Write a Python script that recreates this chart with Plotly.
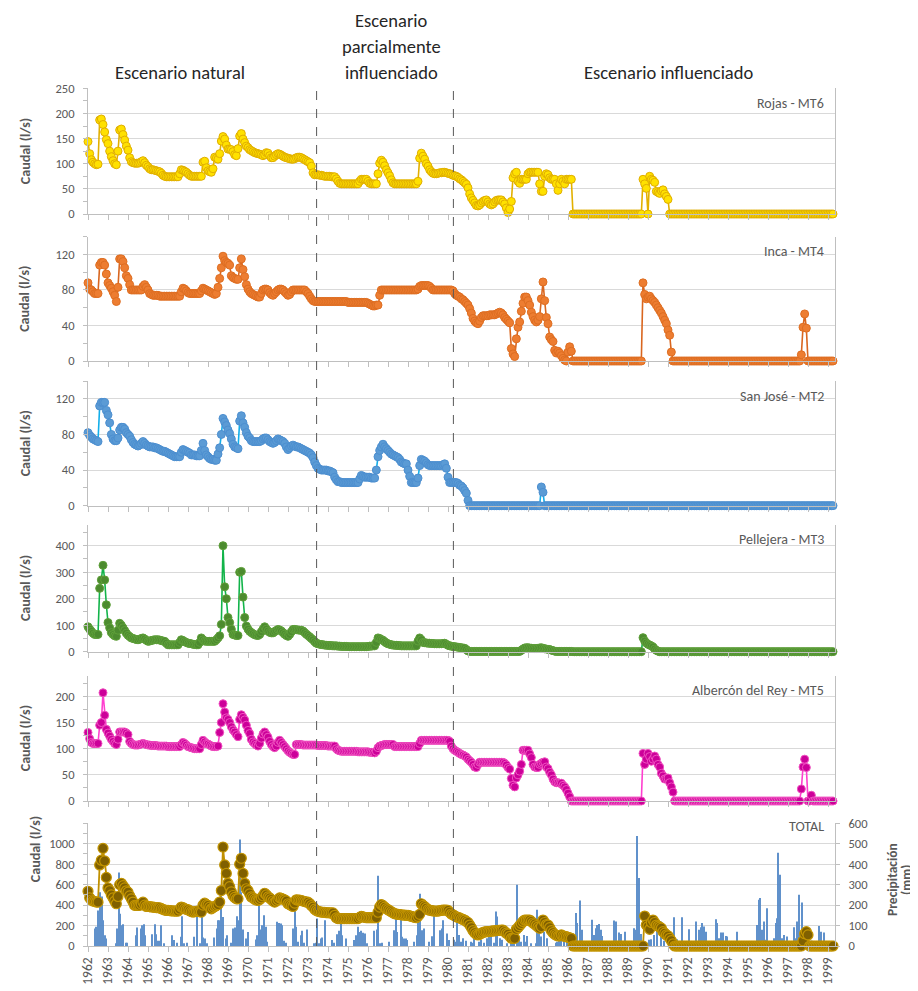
import plotly.graph_objects as go

# ---------------- data: monthly flow readings (l/s), Jan 1962 ... Apr 1999 ----------------
N_M = 448
t_m = [1962 + m / 12 for m in range(N_M)]

rojas = [
    144, 120, 108, 103, 100, 98, 99, 187, 189, 178, 163, 148,   # 1962
    140, 125, 114, 106, 100, 98, 125, 167, 169, 158, 147, 135,  # 1963
    127, 112, 104, 102, 101, 101, 101, 102, 104, 106, 102, 97,  # 1964
    94, 90, 88, 88, 87, 86, 85, 84, 81, 77, 75, 74,             # 1965
    74, 74, 74, 74, 74, 74, 74, 80, 88, 87, 85, 83,             # 1966
    80, 77, 75, 75, 75, 75, 75, 75, 75, 103, 105, 92,           # 1967
    86, 84, 83, 90, 113, 111, 109, 120, 145, 154, 149, 137,     # 1968
    129, 129, 128, 124, 118, 116, 130, 155, 160, 149, 142, 135,  # 1969
    132, 128, 126, 124, 122, 121, 120, 119, 118, 116, 118, 122,  # 1970
    121, 116, 112, 112, 115, 118, 120, 119, 117, 115, 113, 112,  # 1971
    111, 110, 109, 109, 110, 112, 113, 113, 112, 110, 108, 106,  # 1972
    104, 102, 95, 82, 78, 78, 78, 77, 77, 76, 75, 75,           # 1973
    75, 75, 74, 74, 74, 70, 65, 61, 60, 60, 60, 60,             # 1974
    60, 60, 60, 60, 60, 60, 60, 65, 69, 69, 69, 69,             # 1975
    65, 61, 60, 60, 60, 60, 80, 101, 107, 103, 96, 88,          # 1976
    82, 76, 68, 62, 60, 60, 60, 60, 60, 60, 60, 60,             # 1977
    60, 60, 60, 60, 60, 60, 65, 111, 121, 115, 109, 100,        # 1978
    95, 88, 84, 81, 80, 80, 81, 82, 82, 83, 83, 82,             # 1979
    81, 80, 79, 77, 76, 75, 73, 70, 68, 65, 62, 59,             # 1980
    52, 40, 32, 27, 22, 17, 16, 18, 22, 25, 27, 28,             # 1981
    24, 20, 18, 20, 24, 27, 28, 28, 28, 24, 20, 12,             # 1982
    3, 10, 25, 72, 80, 83, 65, 61, 69, 69, 69, 69,              # 1983
    80, 83, 83, 83, 83, 83, 83, 60, 45, 45, 75, 80,             # 1984
    78, 72, 69, 69, 69, 60, 47, 60, 69, 65, 60, 69,             # 1985
    69, 69, 69, 0, 0, 0, 0, 0, 0, 0, 0, 0,                      # 1986
    *[0] * 24,                                                  # 1987-1988
    0, 0, 0, 0, 0, 0, 0, 0, 0, 69, 60, 51,                      # 1989
    0, 75, 69, 67, 63, 45, 43, 41, 46, 48, 40, 35,              # 1990
    29, 0, 0, 0, 0, 0, 0, 0, 0, 0, 0, 0,                        # 1991
    *[0] * 84,                                                  # 1992-1998
    0, 0, 0, 0,                                                 # 1999
]

inca = [
    88, 81, 80, 78, 76, 76, 76, 108, 111, 111, 108, 98,         # 1962
    88, 85, 82, 78, 74, 67, 83, 115, 115, 112, 105, 96,         # 1963
    93, 86, 80, 80, 80, 80, 80, 80, 80, 84, 86, 83,             # 1964
    80, 76, 75, 74, 74, 74, 74, 73, 73, 73, 73, 73,             # 1965
    73, 73, 73, 73, 73, 73, 73, 73, 78, 82, 81, 79,             # 1966
    77, 76, 76, 76, 76, 76, 76, 76, 79, 82, 81, 80,             # 1967
    79, 78, 77, 76, 75, 76, 83, 93, 105, 118, 113, 111,         # 1968
    110, 108, 96, 94, 93, 92, 92, 105, 115, 103, 95, 86,        # 1969
    81, 78, 76, 75, 74, 73, 72, 72, 76, 80, 81, 81,             # 1970
    80, 77, 75, 74, 76, 78, 80, 81, 81, 80, 78, 76,             # 1971
    74, 75, 78, 80, 80, 80, 80, 80, 80, 80, 80, 78,             # 1972
    76, 73, 70, 68, 67, 67, 67, 67, 67, 67, 67, 67,             # 1973
    *[67] * 12,                                                 # 1974
    *[66] * 12,                                                 # 1975
    65, 64, 63, 62, 62, 63, 63, 74, 80, 80, 80, 80,             # 1976
    *[80] * 12,                                                 # 1977
    80, 80, 80, 80, 80, 80, 81, 84, 85, 85, 85, 85,             # 1978
    85, 84, 82, 80, 80, 80, 80, 80, 80, 80, 80, 80,             # 1979
    80, 80, 80, 79, 76, 74, 73, 72, 70, 69, 67, 65,             # 1980
    63, 59, 54, 48, 45, 43, 42, 45, 49, 51, 51, 51,             # 1981
    51, 52, 52, 52, 52, 53, 54, 55, 54, 52, 49, 47,             # 1982
    45, 43, 14, 8, 5, 25, 38, 44, 56, 65, 72, 72,               # 1983
    68, 63, 55, 50, 46, 44, 46, 50, 70, 89, 68, 49,             # 1984
    42, 27, 24, 22, 12, 9, 11, 9, 6, 3, 1, 0,                   # 1985
    10, 16, 11, 0, 0, 0, 0, 0, 0, 0, 0, 0,                      # 1986
    *[0] * 24,                                                  # 1987-1988
    0, 0, 0, 0, 0, 0, 0, 0, 0, 88, 75, 70,                      # 1989
    72, 73, 70, 68, 66, 63, 60, 57, 54, 50, 46, 42,             # 1990
    35, 29, 10, 0, 0, 0, 0, 0, 0, 0, 0, 0,                      # 1991
    *[0] * 60,                                                  # 1992-1996
    0, 0, 0, 0, 0, 0, 0, 0, 7, 38, 53, 37,                      # 1997
    *[0] * 12,                                                  # 1998
    0, 0, 0, 0,                                                 # 1999
]

san_jose = [
    82, 79, 77, 75, 74, 73, 72, 112, 116, 116, 116, 107,        # 1962
    102, 93, 80, 75, 73, 73, 76, 85, 88, 88, 86, 82,            # 1963
    80, 78, 74, 71, 69, 68, 67, 68, 70, 72, 70, 68,             # 1964
    67, 66, 66, 66, 65, 65, 64, 63, 62, 61, 61, 60,             # 1965
    59, 58, 57, 56, 55, 55, 55, 55, 60, 63, 62, 61,             # 1966
    60, 59, 57, 57, 57, 56, 56, 56, 62, 70, 62, 57,             # 1967
    55, 53, 52, 52, 51, 51, 58, 65, 80, 98, 94, 90,             # 1968
    85, 81, 75, 69, 66, 65, 64, 95, 101, 93, 88, 82,            # 1969
    78, 76, 73, 72, 72, 72, 72, 72, 73, 75, 76, 76,             # 1970
    74, 72, 71, 70, 71, 73, 75, 74, 73, 72, 70, 66,             # 1971
    63, 65, 67, 68, 67, 66, 66, 65, 64, 63, 62, 61,             # 1972
    60, 59, 57, 54, 49, 45, 42, 41, 40, 40, 40, 40,             # 1973
    39, 39, 38, 37, 32, 29, 27, 27, 26, 26, 26, 26,             # 1974
    26, 26, 26, 26, 26, 26, 26, 30, 34, 33, 32, 32,             # 1975
    32, 32, 31, 31, 31, 40, 55, 62, 66, 69, 66, 64,             # 1976
    62, 60, 58, 57, 56, 55, 54, 52, 49, 48, 47, 47,             # 1977
    40, 33, 26, 26, 26, 26, 31, 45, 52, 51, 50, 48,             # 1978
    46, 45, 45, 45, 45, 45, 45, 45, 45, 46, 47, 42,             # 1979
    32, 26, 26, 26, 26, 26, 25, 23, 22, 20, 17, 14,             # 1980
    6, 0, 0, 0, 0, 0, 0, 0, 0, 0, 0, 0,                         # 1981
    *[0] * 24,                                                  # 1982-1983
    0, 0, 0, 0, 0, 0, 0, 0, 21, 15, 0, 0,                       # 1984
    *[0] * 168,                                                 # 1985-1998
    0, 0, 0, 0,                                                 # 1999
]

pellejera = [
    94, 85, 77, 70, 65, 65, 65, 239, 271, 326, 271, 177,        # 1962
    110, 90, 72, 65, 60, 58, 81, 107, 100, 90, 80, 70,          # 1963
    62, 57, 52, 50, 48, 46, 45, 47, 50, 52, 48, 43,             # 1964
    39, 40, 42, 44, 45, 45, 45, 44, 42, 40, 39, 32,             # 1965
    26, 26, 26, 26, 26, 26, 26, 35, 45, 42, 38, 35,             # 1966
    32, 31, 30, 28, 27, 26, 26, 35, 52, 45, 40, 39,             # 1967
    39, 39, 39, 39, 39, 45, 52, 60, 103, 400, 245, 200,         # 1968
    129, 110, 85, 65, 63, 61, 61, 300, 303, 206, 129, 97,       # 1969
    85, 77, 72, 68, 64, 62, 61, 65, 75, 85, 94, 85,             # 1970
    78, 73, 71, 71, 76, 80, 84, 82, 78, 72, 66, 61,             # 1971
    58, 65, 75, 84, 84, 83, 82, 81, 81, 78, 72, 66,             # 1972
    61, 56, 50, 45, 38, 32, 30, 28, 27, 26, 25, 24,             # 1973
    24, 23, 23, 22, 22, 22, 21, 21, 20, 20, 20, 20,             # 1974
    *[19] * 12,                                                 # 1975
    20, 21, 21, 22, 22, 35, 52, 50, 46, 43, 38, 33,             # 1976
    30, 28, 26, 25, 24, 24, 23, 23, 22, 22, 22, 22,             # 1977
    22, 22, 22, 22, 22, 22, 40, 52, 45, 35, 34, 33,             # 1978
    32, 32, 31, 31, 30, 30, 30, 30, 30, 31, 32, 28,             # 1979
    24, 22, 21, 20, 19, 18, 17, 16, 15, 14, 13, 8,              # 1980
    3, 1, 1, 1, 1, 1, 1, 1, 1, 1, 1, 1,                         # 1981
    *[1] * 12,                                                  # 1982
    1, 1, 1, 1, 1, 1, 1, 1, 5, 10, 14, 15,                      # 1983
    15, 14, 13, 12, 12, 12, 13, 14, 15, 13, 11, 10,             # 1984
    9, 8, 6, 4, 2, 1, 1, 1, 1, 1, 1, 1,                         # 1985
    1, 1, 1, 0, 0, 0, 0, 0, 0, 0, 0, 0,                         # 1986
    *[0] * 24,                                                  # 1987-1988
    0, 0, 0, 0, 0, 0, 0, 0, 0, 53, 40, 33,                      # 1989
    28, 25, 22, 18, 10, 5, 2, 0, 0, 0, 0, 0,                    # 1990
    *[0] * 96,                                                  # 1991-1998
    0, 0, 0, 0,                                                 # 1999
]

albercon = [
    131, 119, 112, 110, 110, 110, 110, 145, 150, 207, 164, 137,  # 1962
    130, 124, 118, 114, 110, 108, 118, 132, 132, 132, 132, 130,  # 1963
    127, 114, 110, 108, 107, 107, 107, 108, 109, 110, 109, 108,  # 1964
    107, 107, 106, 106, 106, 106, 105, 105, 105, 105, 105, 105,  # 1965
    104, 104, 104, 104, 104, 104, 104, 104, 108, 112, 110, 107,  # 1966
    104, 103, 102, 101, 100, 100, 100, 100, 108, 116, 113, 110,  # 1967
    109, 107, 105, 104, 104, 104, 105, 131, 150, 186, 170, 159,  # 1968
    156, 150, 142, 136, 132, 127, 123, 156, 165, 160, 155, 145,  # 1969
    135, 129, 118, 113, 110, 107, 105, 110, 120, 128, 132, 127,  # 1970
    122, 114, 108, 104, 102, 105, 112, 116, 112, 108, 104, 100,  # 1971
    96, 93, 91, 89, 89, 108, 108, 108, 108, 107, 107, 107,       # 1972
    107, 107, 107, 107, 107, 107, 106, 106, 106, 106, 106, 106,  # 1973
    105, 105, 105, 105, 105, 100, 97, 96, 95, 95, 95, 95,        # 1974
    95, 95, 95, 95, 95, 95, 94, 94, 94, 94, 94, 94,              # 1975
    94, 93, 93, 93, 92, 95, 102, 105, 106, 107, 108, 108,        # 1976
    108, 108, 108, 108, 104, 104, 104, 104, 104, 104, 104, 104,  # 1977
    104, 104, 104, 104, 104, 104, 104, 110, 116, 116, 116, 116,  # 1978
    *[116] * 12,                                                # 1979
    116, 114, 105, 100, 97, 95, 93, 91, 89, 88, 86, 84,          # 1980
    80, 77, 74, 70, 65, 64, 70, 74, 74, 74, 74, 74,              # 1981
    74, 74, 74, 74, 74, 74, 74, 74, 74, 74, 72, 69,              # 1982
    64, 61, 43, 30, 27, 44, 50, 57, 70, 97, 97, 97,              # 1983
    97, 90, 83, 70, 65, 64, 64, 70, 72, 74, 75, 65,              # 1984
    62, 55, 50, 42, 37, 35, 35, 34, 34, 30, 27, 22,              # 1985
    15, 8, 0, 0, 0, 0, 0, 0, 0, 0, 0, 0,                         # 1986
    *[0] * 24,                                                  # 1987-1988
    0, 0, 0, 0, 0, 0, 0, 0, 0, 91, 70, 80,                       # 1989
    91, 85, 76, 80, 86, 80, 70, 65, 53, 48, 42, 43,              # 1990
    44, 35, 27, 17, 0, 0, 0, 0, 0, 0, 0, 0,                      # 1991
    *[0] * 60,                                                  # 1992-1996
    0, 0, 0, 0, 0, 0, 0, 0, 23, 65, 80, 64,                      # 1997
    0, 0, 11, 0, 0, 0, 0, 0, 0, 0, 0, 0,                         # 1998
    0, 0, 0, 0,                                                 # 1999
]

total = [
    535, 471, 450, 440, 435, 430, 429, 793, 839, 955, 832, 671,  # 1962
    568, 542, 500, 471, 439, 413, 484, 600, 613, 590, 568, 540,  # 1963
    526, 490, 461, 430, 397, 397, 397, 397, 410, 429, 400, 387,  # 1964
    387, 385, 382, 380, 378, 376, 374, 374, 365, 358, 352, 348,  # 1965
    348, 346, 344, 343, 342, 342, 342, 360, 381, 375, 365, 358,  # 1966
    355, 345, 336, 332, 335, 340, 342, 335, 332, 400, 419, 405,  # 1967
    397, 380, 364, 375, 387, 395, 405, 430, 542, 968, 793, 710,  # 1968
    613, 580, 530, 494, 475, 461, 461, 800, 858, 710, 613, 560,  # 1969
    542, 510, 480, 471, 458, 450, 445, 455, 471, 490, 516, 500,  # 1970
    480, 471, 455, 440, 429, 440, 455, 471, 465, 458, 452, 440,  # 1971
    413, 405, 395, 387, 420, 452, 450, 448, 445, 440, 435, 429,  # 1972
    429, 415, 395, 381, 360, 348, 340, 335, 332, 330, 328, 326,  # 1973
    325, 324, 323, 323, 300, 275, 268, 268, 268, 268, 268, 268,  # 1974
    268, 268, 268, 268, 268, 268, 268, 280, 290, 285, 280, 277,  # 1975
    277, 277, 277, 277, 277, 277, 330, 381, 406, 395, 380, 365,  # 1976
    355, 345, 335, 325, 316, 312, 310, 308, 305, 303, 301, 300,  # 1977
    300, 295, 290, 285, 280, 277, 290, 310, 413, 397, 385, 370,  # 1978
    355, 350, 346, 344, 342, 342, 342, 345, 348, 352, 352, 350,  # 1979
    348, 330, 313, 305, 295, 285, 280, 275, 265, 260, 254, 240,  # 1980
    230, 205, 180, 150, 130, 115, 108, 115, 125, 132, 138, 140,  # 1981
    140, 142, 145, 147, 148, 150, 152, 154, 156, 156, 140, 125,  # 1982
    117, 95, 75, 75, 75, 163, 180, 200, 220, 240, 254, 254,      # 1983
    254, 254, 240, 225, 215, 200, 185, 173, 190, 254, 230, 210,  # 1984
    205, 180, 150, 130, 115, 105, 98, 100, 108, 100, 95, 91,     # 1985
    85, 80, 75, 0, 0, 0, 0, 0, 0, 0, 0, 0,                       # 1986
    *[0] * 24,                                                  # 1987-1988
    0, 0, 0, 0, 0, 0, 0, 0, 0, 0, 293, 205,                      # 1989
    190, 163, 230, 254, 230, 205, 195, 185, 175, 140, 125, 108,  # 1990
    100, 75, 52, 20, 0, 0, 0, 0, 0, 0, 0, 0,                     # 1991
    *[0] * 60,                                                  # 1992-1996
    0, 0, 0, 0, 0, 0, 0, 0, 0, 50, 120, 140,                     # 1997
    108, 0, 0, 0, 0, 0, 0, 0, 0, 0, 0, 0,                        # 1998
    0, 0, 0, 0,                                                 # 1999
]

precip_t = [1962.35, 1962.42, 1962.5, 1962.58, 1962.68, 1962.75, 1962.83, 1962.9,
            1963.38, 1963.47, 1963.53, 1963.6, 1963.72, 1963.77, 1963.88, 1963.97,
            1964.38, 1964.47, 1964.63, 1964.72, 1964.8, 1964.87,
            1965.22, 1965.33, 1965.42, 1965.52, 1965.6, 1965.67, 1965.8,
            1966.22, 1966.3, 1966.47, 1966.63, 1966.72, 1966.8, 1966.93,
            1967.3, 1967.47, 1967.6, 1967.68, 1967.77, 1967.83, 1967.97,
            1968.3, 1968.43, 1968.5, 1968.57, 1968.67, 1968.77, 1968.88, 1968.97, 1969.13,
            1969.25, 1969.33, 1969.43, 1969.5, 1969.58, 1969.67, 1969.77, 1969.88, 1970.0,
            1970.38, 1970.47, 1970.55, 1970.63, 1970.72, 1970.8, 1970.88, 1970.97,
            1971.43, 1971.55, 1971.63, 1971.72, 1971.8, 1971.88,
            1972.25, 1972.33, 1972.42, 1972.52, 1972.63, 1972.72, 1972.8, 1972.93,
            1973.3, 1973.38, 1973.47, 1973.55, 1973.63, 1973.72, 1973.83,
            1974.22, 1974.3, 1974.47, 1974.55, 1974.63, 1974.72, 1974.88,
            1975.3, 1975.38, 1975.5, 1975.6, 1975.67, 1975.77, 1975.83, 1975.97,
            1976.3, 1976.43, 1976.52, 1976.6, 1976.72,
            1977.05, 1977.3, 1977.38, 1977.47, 1977.63, 1977.72, 1977.8, 1977.88, 1977.97,
            1978.3, 1978.43, 1978.52, 1978.6, 1978.72, 1978.8,
            1979.05, 1979.22, 1979.3, 1979.6, 1979.68, 1979.77, 1979.97, 1980.05,
            1980.3, 1980.38, 1980.47, 1980.55, 1980.67, 1980.76, 1980.88,
            1981.13, 1981.21, 1981.3, 1981.55, 1981.67, 1981.8, 1981.97,
            1982.05, 1982.13, 1982.3, 1982.38, 1982.46, 1982.6, 1982.71, 1982.97,
            1983.13, 1983.22, 1983.3, 1983.43, 1983.55, 1983.63, 1983.8, 1983.88, 1983.97,
            1984.13, 1984.38, 1984.47, 1984.55, 1984.66, 1984.8, 1984.93,
            1985.38, 1985.46, 1985.55, 1985.66, 1985.8, 1985.93,
            1986.22, 1986.38, 1986.46, 1986.6, 1986.71, 1986.83,
            1987.2, 1987.3, 1987.38, 1987.46, 1987.55, 1987.63, 1987.71,
            1988.3, 1988.38, 1988.55, 1988.66, 1988.83,
            1989.3, 1989.38, 1989.47, 1989.55, 1989.63, 1989.71, 1989.88, 1989.96,
            1990.05, 1990.13, 1990.3, 1990.47, 1990.63, 1990.8,
            1991.13, 1991.3, 1991.46, 1991.55, 1991.72,
            1992.05, 1992.38, 1992.55, 1992.63, 1992.71, 1992.8, 1992.88,
            1993.38, 1993.46, 1993.55, 1993.63, 1993.76, 1993.88, 1993.96,
            1994.38, 1994.47, 1994.8,
            1995.21, 1995.46, 1995.55, 1995.6, 1995.66, 1995.71, 1995.8, 1995.88, 1995.96,
            1996.05, 1996.3, 1996.38, 1996.46, 1996.52, 1996.6, 1996.71, 1996.8, 1996.93,
            1997.05, 1997.3, 1997.38, 1997.46, 1997.55, 1997.63, 1997.71, 1997.83, 1997.88,
            1998.05, 1998.13, 1998.21, 1998.55, 1998.63, 1998.8, 1998.96, 1999.3]
precip_mm = [85, 94, 174, 263, 242, 126, 53, 37,
             13, 85, 360, 158, 102, 106, 16, 16,
             53, 90, 85, 102, 106, 53,
             58, 106, 58, 26, 26, 102, 13,
             53, 29, 16, 45, 145, 13, 16,
             45, 150, 13, 145, 42, 37, 13,
             42, 85, 126, 126, 271, 142, 37, 53, 16,
             85, 90, 145, 126, 521, 263, 81, 37, 69,
             32, 53, 235, 81, 102, 150, 94, 21,
             118, 113, 110, 102, 26, 16,
             85, 182, 94, 21, 53, 74, 16, 81,
             13, 16, 134, 13, 37, 42, 126,
             29, 16, 58, 74, 110, 53, 37,
             29, 53, 94, 69, 74, 65, 61, 13,
             74, 81, 344, 13, 16,
             21, 77, 134, 69, 134, 45, 37, 37, 29,
             21, 53, 145, 255, 77, 85,
             21, 48, 150, 77, 85, 126, 61, 29,
             30, 21, 126, 54, 21, 38, 26,
             21, 16, 95, 21, 30, 16, 38,
             46, 54, 16, 169, 144, 38, 30, 13,
             16, 38, 103, 300, 38, 21, 54, 21, 49,
             13, 13, 177, 87, 46, 70, 38,
             16, 21, 54, 30, 46, 38,
             13, 161, 112, 223, 79, 21,
             128, 54, 87, 103, 108, 79, 49,
             125, 120, 66, 59, 70,
             87, 79, 538, 333, 59, 21, 5, 16,
             30, 33, 54, 82, 120, 26,
             21, 141, 33, 21, 141,
             82, 120, 79, 92, 112, 95, 70,
             131, 112, 38, 66, 66, 49, 46,
             13, 70, 21,
             13, 103, 226, 235, 38, 79, 120, 30, 185,
             21, 38, 112, 136, 456, 349, 38, 54, 46,
             16, 92, 38, 120, 251, 30, 213, 21, 54,
             21, 26, 26, 98, 70, 66, 21, 26]

year_ticks = list(range(1962, 2000))
year_labels = [str(y) for y in year_ticks]
scenario_breaks = [1973.43, 1980.27]

for _name, _s in [("rojas", rojas), ("inca", inca), ("san_jose", san_jose),
                  ("pellejera", pellejera), ("albercon", albercon), ("total", total)]:
    if len(_s) != N_M:
        raise SystemExit(f"{_name} has {len(_s)} values, expected {N_M}")

stations = [
    # name, values, y max, tick step, minor step, line color, marker fill, marker edge
    ("Rojas - MT6", rojas, 250, 50, 25, "#E2B000", "#FFE100", "#E0AE00"),
    ("Inca - MT4", inca, 140, 40, 20, "#D9661F", "#ED7D31", "#DE6E22"),
    ("San José - MT2", san_jose, 140, 40, 20, "#12AEEA", "#5B9BD5", "#4D8FD0"),
    ("Pellejera - MT3", pellejera, 480, 100, 50, "#12B44A", "#4C8B2F", "#5FA03A"),
    ("Albercón del Rey - MT5", albercon, 240, 50, 25, "#FF3FCF", "#CC0099", "#F050C0"),
]

# ---------------- layout geometry (screen px; page body has an 8px margin) ----------------
OFF = 8
W, H = 918 - OFF, 991 - OFF
PLOT_X0, PLOT_X1 = 88, 835
L = PLOT_X0 - OFF
R = W - (PLOT_X1 - OFF)
PW = PLOT_X1 - PLOT_X0
panels_px = [(88.3, 214), (236.7, 361), (381, 505.7), (524.5, 651.7), (675.5, 801), (823.3, 946)]


def py(p):
    return 1 - (p - OFF) / H


def px(p):
    return (p - PLOT_X0) / PW


GRID = "#D9D9D9"
AX = "#BFBFBF"
TXT = "#595959"
FONT = "Carlito, Lato, sans-serif"
X0, X1 = 1962.0, 1999.35

fig = go.Figure()
layout = dict(
    width=W, height=H, margin=dict(l=L, r=R, t=0, b=0, pad=0),
    paper_bgcolor="white", plot_bgcolor="white", showlegend=False,
    font=dict(family=FONT, color=TXT),
)

annotations = []
for k, (name, vals, ymax, step, minor, lc, mf, me) in enumerate(stations):
    n = k + 1
    xa = "x" if n == 1 else f"x{n}"
    ya = "y" if n == 1 else f"y{n}"
    fig.add_trace(go.Scatter(
        x=t_m, y=vals, xaxis=xa, yaxis=ya, mode="lines+markers",
        line=dict(color=lc, width=1.6),
        marker=dict(size=8, color=mf, line=dict(color=me, width=1)),
        cliponaxis=False, hoverinfo="skip"))
    top, bot = panels_px[k]
    layout["xaxis" if n == 1 else f"xaxis{n}"] = dict(
        domain=[0, 1], anchor=ya, range=[X0, X1], showgrid=False, zeroline=False,
        showline=True, linecolor=AX, linewidth=1, ticks="outside", ticklen=5, tickcolor=AX,
        tickvals=year_ticks, showticklabels=False, automargin=False,
        **({} if n == 1 else {"matches": "x"}))
    layout["yaxis" if n == 1 else f"yaxis{n}"] = dict(
        domain=[py(bot), py(top)], anchor=xa, range=[0, ymax],
        tickvals=list(range(0, ymax + 1, step)), showgrid=True, gridcolor=GRID, gridwidth=1,
        zeroline=False, showline=True, linecolor=AX, linewidth=1, mirror=True,
        ticks="outside", ticklen=4, tickcolor=AX,
        minor=dict(dtick=minor, ticks="outside", ticklen=4, tickcolor=AX, showgrid=False),
        tickfont=dict(size=12.5, color=TXT, family=FONT), ticklabelstandoff=6, automargin=False)
    annotations.append(dict(text=name, x=px(826), y=py(top + 15), xref="paper", yref="paper",
                            xanchor="right", yanchor="middle", showarrow=False,
                            font=dict(size=14, color=TXT, family=FONT)))
    annotations.append(dict(text="<b>Caudal (l/s)</b>", x=px(25), y=py((top + bot) / 2),
                            xref="paper", yref="paper", textangle=-90, showarrow=False,
                            xanchor="center", yanchor="middle",
                            font=dict(size=14, color=TXT, family=FONT)))

# TOTAL panel: rainfall bars on the base (right) axis, total flow on the overlaying left axis
top, bot = panels_px[5]
fig.add_trace(go.Bar(x=precip_t, y=precip_mm, xaxis="x6", yaxis="y6", width=0.05,
                     marker=dict(color="#4F86C6", line=dict(width=0)), opacity=0.9,
                     hoverinfo="skip"))
fig.add_trace(go.Scatter(x=t_m, y=total, xaxis="x6", yaxis="y7", mode="lines+markers",
                         line=dict(color="#C09000", width=1.8),
                         marker=dict(size=10, color="#806000", line=dict(color="#C29400", width=1.2)),
                         cliponaxis=False, hoverinfo="skip"))
layout["xaxis6"] = dict(
    domain=[0, 1], anchor="y6", range=[X0, X1], matches="x", showgrid=False, zeroline=False,
    showline=True, linecolor=AX, linewidth=1, ticks="outside", ticklen=5, tickcolor=AX,
    tickvals=year_ticks, ticktext=year_labels, tickangle=-90,
    tickfont=dict(size=13.5, color=TXT, family=FONT), automargin=False)
layout["yaxis6"] = dict(
    domain=[py(bot), py(top)], anchor="x6", side="right", range=[0, 600],
    tickvals=list(range(0, 601, 100)), showgrid=False, zeroline=False,
    showline=True, linecolor=AX, linewidth=1, ticks="outside", ticklen=4, tickcolor=AX,
    tickfont=dict(size=12.5, color=TXT, family=FONT), ticklabelstandoff=6, automargin=False)
layout["yaxis7"] = dict(
    domain=[py(bot), py(top)], anchor="x6", overlaying="y6", side="left", range=[0, 1200],
    tickvals=list(range(0, 1001, 200)), showgrid=True, gridcolor=GRID, gridwidth=1,
    zeroline=False, showline=True, linecolor=AX, linewidth=1,
    ticks="outside", ticklen=4, tickcolor=AX,
    minor=dict(dtick=100, ticks="outside", ticklen=4, tickcolor=AX, showgrid=False),
    tickfont=dict(size=12.5, color=TXT, family=FONT), ticklabelstandoff=6, automargin=False)
annotations.append(dict(text="TOTAL", x=px(826), y=py(826), xref="paper", yref="paper",
                        xanchor="right", yanchor="middle", showarrow=False,
                        font=dict(size=14, color=TXT, family=FONT)))
annotations.append(dict(text="<b>Caudal (l/s)</b>", x=px(25), y=py((top + bot) / 2),
                        xref="paper", yref="paper", textangle=-90, showarrow=False,
                        font=dict(size=14, color=TXT, family=FONT)))
# right-axis title: two rotated lines, kept as two annotations so their positions are exact
annotations.append(dict(text="<b>Precipitación</b>", x=px(892), y=py(880),
                        xref="paper", yref="paper", textangle=-90, showarrow=False,
                        xanchor="center", yanchor="middle",
                        font=dict(size=13.5, color=TXT, family=FONT)))
annotations.append(dict(text="<b>(mm)</b>", x=px(906), y=py(880),
                        xref="paper", yref="paper", textangle=-90, showarrow=False,
                        xanchor="center", yanchor="middle",
                        font=dict(size=13.5, color=TXT, family=FONT)))

# scenario headers
hdr = dict(xref="paper", yref="paper", showarrow=False, xanchor="center", yanchor="middle",
           font=dict(size=18.5, color="#262626", family=FONT))
annotations.append(dict(text="Escenario natural", x=px(180), y=py(73), **hdr))
annotations.append(dict(text="Escenario", x=px(391), y=py(20), **hdr))
annotations.append(dict(text="parcialmente", x=px(391), y=py(46), **hdr))
annotations.append(dict(text="influenciado", x=px(391), y=py(72), **hdr))
annotations.append(dict(text="Escenario influenciado", x=px(668), y=py(73), **hdr))

shapes = []
for b in scenario_breaks:
    shapes.append(dict(type="line", xref="x", yref="paper", x0=b, x1=b,
                       y0=py(946), y1=py(88), line=dict(color="#595959", width=1, dash="dash")))

layout["annotations"] = annotations
layout["shapes"] = shapes
fig.update_layout(**layout)
fig.write_html("out.html")
